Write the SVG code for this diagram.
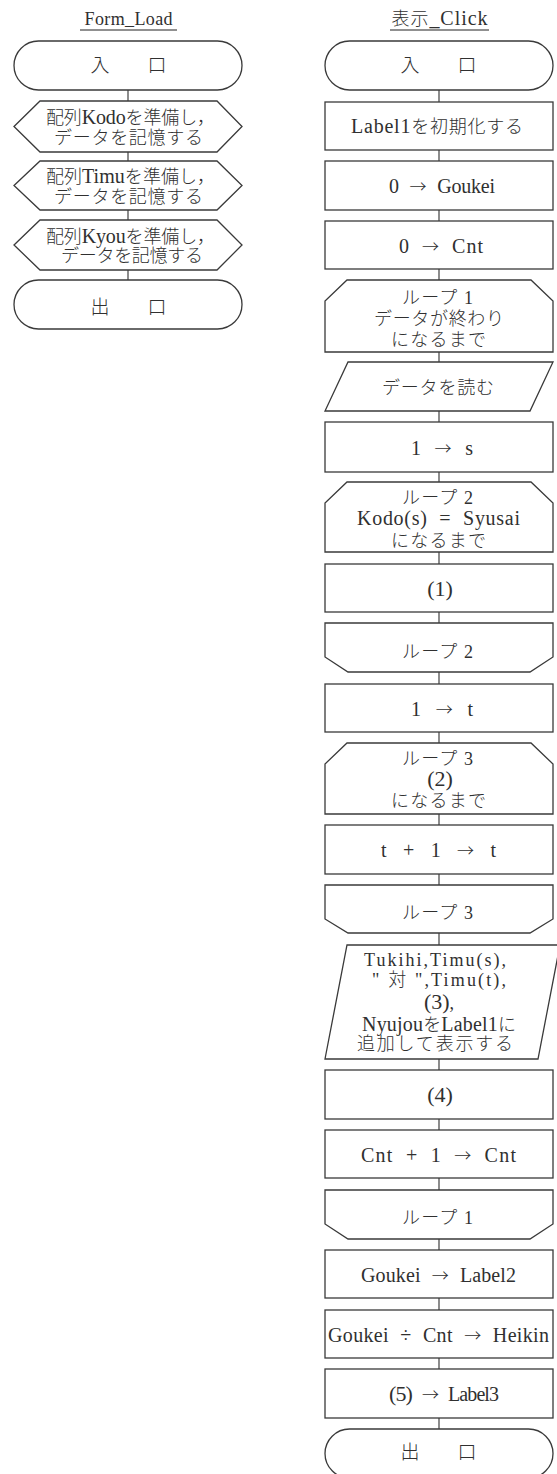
<svg xmlns="http://www.w3.org/2000/svg" width="557" height="1474" viewBox="0 0 557 1474">
<style>
.s{fill:#fff;stroke:#3a3a3a;stroke-width:1.3}
.c{stroke:#505050;stroke-width:1.3;fill:none}
.u{stroke:#222;stroke-width:1.2}
text{font-family:"Liberation Serif","Noto Sans CJK JP",serif;font-size:18px;font-weight:300;fill:#303030;text-anchor:middle}
.l{font-size:20px}
.m{font-size:18px}
.w{word-spacing:6px}
.a{font-family:"Noto Sans CJK JP",sans-serif;font-size:17px}
.j{font-size:19px}
.b{font-size:22px}
</style>
<rect width="557" height="1474" fill="#fff"/>
<g id="connectors">
<path class="c" d="M128 90V101M128 152V161M128 210V220M128 270V280"/>
<path class="c" d="M439 90V102M439 150V161M439 210V221M439 269V280M439 352V362M439 411V422M439 472V482M439 552V564M439 612V623M439 672V684M439 732V743M439 814V825M439 874V885M439 933V945M439 1059V1070M439 1119V1130M439 1178V1190M439 1239V1250M439 1298V1310M439 1358V1369M439 1418V1429"/>
</g>
<g id="title-form-load">
<text x="128.5" y="24.5" textLength="88">Form_Load</text>
<line class="u" x1="80" y1="30" x2="177" y2="30"/>
</g>
<g id="fl-entry">
<rect class="s" x="14" y="41" width="228" height="49" rx="24.5"/>
<text class="j" x="128.5" y="72">入　　口</text>
</g>
<g id="fl-kodo">
<polygon class="s" points="14,126.5 40,101 217,101 242,126.5 217,152 40,152"/>
<text x="130.5" y="124" textLength="169">配列<tspan class="l">Kodo</tspan>を準備し，</text>
<text x="128.5" y="143.5" textLength="149">データを記憶する</text>
</g>
<g id="fl-timu">
<polygon class="s" points="14,185.5 40,161 217,161 242,185.5 217,210 40,210"/>
<text x="130.5" y="183" textLength="169">配列<tspan class="l">Timu</tspan>を準備し，</text>
<text x="128.5" y="202.5" textLength="149">データを記憶する</text>
</g>
<g id="fl-kyou">
<polygon class="s" points="14,245 40,220 217,220 242,245 217,270 40,270"/>
<text x="130.5" y="242.5" textLength="169">配列<tspan class="l">Kyou</tspan>を準備し，</text>
<text x="132" y="262" textLength="142">データを記憶する</text>
</g>
<g id="fl-exit">
<rect class="s" x="14" y="280" width="228" height="49" rx="24.5"/>
<text class="j" x="128.5" y="313.5">出　　口</text>
</g>

<g id="title-click">
<text x="439.5" y="24.5" textLength="96">表示<tspan class="l">_Click</tspan></text>
<line class="u" x1="390" y1="30" x2="489" y2="30"/>
</g>
<g id="cl-entry">
<rect class="s" x="325" y="41" width="228" height="49" rx="24.5"/>
<text class="j" x="438.5" y="72">入　　口</text>
</g>
<g id="cl-init">
<rect class="s" x="325" y="102" width="228" height="48"/>
<text x="437" y="132.5" textLength="172"><tspan class="l">Label1</tspan>を初期化する</text>
</g>
<g id="cl-goukei0">
<rect class="s" x="325" y="161" width="228" height="49"/>
<text class="l w" x="442" y="193" textLength="106">0 <tspan class="a">→</tspan> Goukei</text>
</g>
<g id="cl-cnt0">
<rect class="s" x="325" y="221" width="228" height="48"/>
<text class="l w" x="441" y="252.5" textLength="84">0 <tspan class="a">→</tspan> Cnt</text>
</g>
<g id="cl-loop1">
<polygon class="s" points="347,280 531,280 553,301 553,352 325,352 325,301"/>
<text x="437.5" y="303.5" textLength="71">ループ 1</text>
<text x="439" y="324.5" textLength="130">データが終わり</text>
<text x="438.5" y="345.5" textLength="95">になるまで</text>
</g>
<g id="cl-read">
<polygon class="s" points="348,362 553,362 530,411 325,411"/>
<text x="438" y="394" textLength="112">データを読む</text>
</g>
<g id="cl-s1">
<rect class="s" x="325" y="422" width="228" height="50"/>
<text class="l w" x="442" y="454.5" textLength="62">1 <tspan class="a">→</tspan> s</text>
</g>
<g id="cl-loop2">
<polygon class="s" points="347,482 531,482 553,503 553,552 325,552 325,503"/>
<text x="437.5" y="503.5" textLength="71">ループ 2</text>
<text class="l w" x="438.5" y="525" textLength="163">Kodo(s) = Syusai</text>
<text x="438.5" y="546.5" textLength="95">になるまで</text>
</g>
<g id="cl-p1">
<rect class="s" x="325" y="564" width="228" height="48"/>
<text class="b" x="440" y="595.5">(1)</text>
</g>
<g id="cl-loop2-end">
<polygon class="s" points="325,623 553,623 553,657 530,672 348,672 325,657"/>
<text x="437.5" y="658" textLength="71">ループ 2</text>
</g>
<g id="cl-t1">
<rect class="s" x="325" y="684" width="228" height="48"/>
<text class="l w" x="442" y="715.5" textLength="62">1 <tspan class="a">→</tspan> t</text>
</g>
<g id="cl-loop3">
<polygon class="s" points="347,743 531,743 553,764 553,814 325,814 325,764"/>
<text x="437.5" y="764.5" textLength="71">ループ 3</text>
<text class="b" x="440" y="786">(2)</text>
<text x="438.5" y="806.5" textLength="95">になるまで</text>
</g>
<g id="cl-tinc">
<rect class="s" x="325" y="825" width="228" height="49"/>
<text class="l w" x="438.5" y="857" textLength="115">t + 1 <tspan class="a">→</tspan> t</text>
</g>
<g id="cl-loop3-end">
<polygon class="s" points="325,885 553,885 553,919 530,933 348,933 325,919"/>
<text x="437.5" y="918.5" textLength="71">ループ 3</text>
</g>
<g id="cl-output">
<polygon class="s" points="347,945 560,945 538,1059 325,1059"/>
<text class="m" x="435" y="965.5" textLength="142">Tukihi,Timu(s),</text>
<text class="m" x="439" y="985.5" textLength="134">" 対 ",Timu(t),</text>
<text class="m" x="439" y="1008.5"><tspan class="b">(3)</tspan>,</text>
<text x="439" y="1030.5" textLength="154"><tspan class="l">Nyujou</tspan>を<tspan class="l">Label1</tspan>に</text>
<text x="435" y="1049.5" textLength="156">追加して表示する</text>
</g>
<g id="cl-p4">
<rect class="s" x="325" y="1070" width="228" height="49"/>
<text class="b" x="440" y="1102">(4)</text>
</g>
<g id="cl-cntinc">
<rect class="s" x="325" y="1130" width="228" height="48"/>
<text class="l w" x="438.5" y="1161.5" textLength="155">Cnt + 1 <tspan class="a">→</tspan> Cnt</text>
</g>
<g id="cl-loop1-end">
<polygon class="s" points="325,1190 553,1190 553,1224 530,1239 348,1239 325,1224"/>
<text x="437.5" y="1223.5" textLength="71">ループ 1</text>
</g>
<g id="cl-label2">
<rect class="s" x="325" y="1250" width="228" height="48"/>
<text class="l w" x="438.5" y="1281.5" textLength="155">Goukei <tspan class="a">→</tspan> Label2</text>
</g>
<g id="cl-heikin">
<rect class="s" x="325" y="1310" width="228" height="48"/>
<text class="l w" x="438.5" y="1341.5" textLength="221">Goukei ÷ Cnt <tspan class="a">→</tspan> Heikin</text>
</g>
<g id="cl-label3">
<rect class="s" x="325" y="1369" width="228" height="49"/>
<text class="l w" x="444" y="1401" textLength="110"><tspan class="b">(5)</tspan> <tspan class="a">→</tspan> Label3</text>
</g>
<g id="cl-exit">
<rect class="s" x="325" y="1429" width="228" height="49" rx="24.5"/>
<text class="j" x="438.5" y="1458.5">出　　口</text>
</g>
</svg>
